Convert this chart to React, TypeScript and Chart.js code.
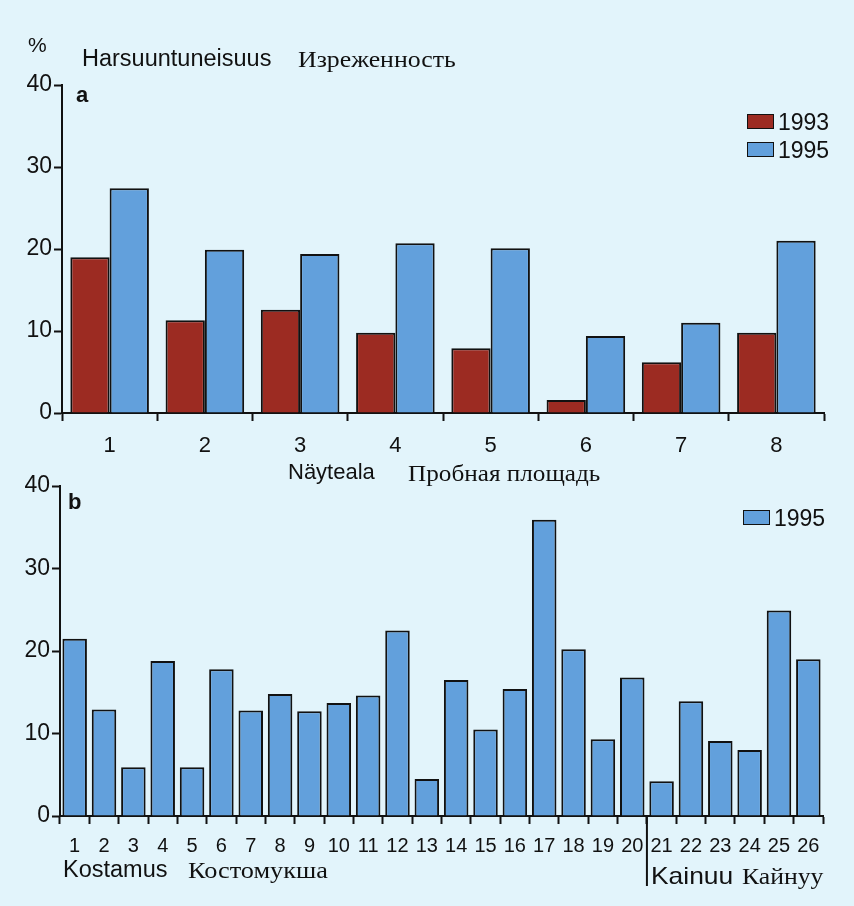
import React, { useEffect, useRef } from "react";
import { Chart, registerables } from "chart.js";

Chart.register(...registerables);

const categoriesA = ["1", "2", "3", "4", "5", "6", "7", "8"];
const values1993 = [19.0, 11.3, 12.6, 9.8, 7.9, 1.6, 6.2, 9.8];
const values1995A = [27.4, 19.9, 19.4, 20.7, 20.1, 9.4, 11.0, 21.0];

const categoriesB = [
  "1", "2", "3", "4", "5", "6", "7", "8", "9", "10", "11", "12", "13",
  "14", "15", "16", "17", "18", "19", "20", "21", "22", "23", "24", "25", "26",
];
const values1995B = [
  21.5, 12.9, 5.9, 18.8, 5.9, 17.8, 12.8, 14.8, 12.7, 13.7, 14.6, 22.5, 4.5,
  16.5, 10.5, 15.4, 35.9, 20.2, 9.3, 16.8, 4.2, 13.9, 9.1, 8.0, 24.9, 19.0,
];
const yMin = 0;
const yMax = 40;
const yStep = 10;

const RED = "#9c2b22";
const BLUE = "#62a0dc";
const BG = "#e2f4fb";
const SANS = "'Liberation Sans', Arial, sans-serif";
const SERIF = "'Liberation Serif', 'Times New Roman', serif";

function yAxis(width: number, fontSize: number) {
  return {
    min: yMin,
    max: yMax,
    ticks: {
      stepSize: yStep,
      color: "#111",
      padding: 2,
      font: { family: SANS, size: fontSize },
    },
    grid: {
      drawOnChartArea: false,
      drawTicks: true,
      tickLength: 8,
      tickColor: "#111",
      tickWidth: 2,
    },
    border: { display: true, color: "#111", width: 2 },
    afterFit: (s: any) => {
      s.width = width;
    },
  };
}

function xAxis(height: number, fontSize: number, padding: number) {
  return {
    ticks: {
      color: "#111",
      padding,
      autoSkip: false,
      maxRotation: 0,
      minRotation: 0,
      font: { family: SANS, size: fontSize },
    },
    grid: {
      offset: true,
      drawOnChartArea: false,
      drawTicks: true,
      tickLength: 8,
      tickColor: "#111",
      tickWidth: 2,
    },
    border: { display: true, color: "#111", width: 2 },
    afterFit: (s: any) => {
      s.height = height;
    },
  };
}

const separatorPlugin = {
  id: "separator",
  afterDraw(chart: any) {
    const x = chart.scales.x;
    const ctx = chart.ctx;
    const px = (x.getPixelForValue(19) + x.getPixelForValue(20)) / 2;
    ctx.save();
    ctx.strokeStyle = "#111";
    ctx.lineWidth = 2;
    ctx.beginPath();
    ctx.moveTo(px, chart.chartArea.bottom);
    ctx.lineTo(px, chart.chartArea.bottom + 70);
    ctx.stroke();
    ctx.restore();
  },
};

function Txt(props: { x: number; base: number; size: number; serif?: boolean; bold?: boolean; sx?: number; children: any }) {
  const { x, base, size, serif, bold, sx, children } = props;
  const k = serif ? 0.8375 : 0.8465;
  return (
    <div
      style={{
        position: "absolute",
        left: x,
        top: base - k * size,
        fontFamily: serif ? SERIF : SANS,
        fontSize: size,
        lineHeight: `${size}px`,
        fontWeight: bold ? "bold" : "normal",
        color: "#111",
        whiteSpace: "nowrap",
        transform: sx ? `scaleX(${sx})` : undefined,
        transformOrigin: "left center",
      }}
    >
      {children}
    </div>
  );
}

function LegendItem(props: { x: number; top: number; color: string; label: string }) {
  const { x, top, color, label } = props;
  return (
    <>
      <div
        style={{
          position: "absolute",
          left: x,
          top,
          width: 27,
          height: 15,
          boxSizing: "border-box",
          background: color,
          border: "1.5px solid #111",
        }}
      />
      <Txt x={x + 31} base={top + 16} size={23}>
        {label}
      </Txt>
    </>
  );
}

export default function App() {
  const refA = useRef<HTMLCanvasElement>(null);
  const refB = useRef<HTMLCanvasElement>(null);

  useEffect(() => {
    document.body.style.margin = "0";
    const a = new Chart(refA.current!, {
      type: "bar",
      data: {
        labels: categoriesA,
        datasets: [
          {
            label: "1993",
            data: values1993,
            backgroundColor: RED,
            borderColor: "#111",
            borderWidth: 2,
          },
          {
            label: "1995",
            data: values1995A,
            backgroundColor: BLUE,
            borderColor: "#111",
            borderWidth: 2,
          },
        ],
      },
      options: {
        animation: false,
        responsive: false,
        maintainAspectRatio: false,
        datasets: { bar: { categoryPercentage: 0.825, barPercentage: 1 } },
        layout: { padding: { left: 0, right: 30, top: 85, bottom: 0 } },
        plugins: { legend: { display: false }, tooltip: { enabled: false } },
        scales: {
          x: xAxis(470 - 413, 22, 12),
          y: yAxis(62, 23),
        },
      } as any,
    });
    const b = new Chart(refB.current!, {
      type: "bar",
      data: {
        labels: categoriesB,
        datasets: [
          {
            label: "1995",
            data: values1995B,
            backgroundColor: BLUE,
            borderColor: "#111",
            borderWidth: 2,
          },
        ],
      },
      options: {
        animation: false,
        responsive: false,
        maintainAspectRatio: false,
        datasets: { bar: { categoryPercentage: 0.835, barPercentage: 1 } },
        layout: { padding: { left: 0, right: 31, top: 16, bottom: 0 } },
        plugins: { legend: { display: false }, tooltip: { enabled: false } },
        scales: {
          x: xAxis(906 - 816, 20, 10),
          y: yAxis(60, 23),
        },
      } as any,
      plugins: [separatorPlugin],
    });
    return () => {
      a.destroy();
      b.destroy();
    };
  }, []);

  return (
    <div style={{ position: "relative", width: 854, height: 906, background: BG, overflow: "hidden" }}>
      <canvas ref={refA} width={854} height={470} style={{ position: "absolute", left: 0, top: 0 }} />
      <canvas ref={refB} width={854} height={436} style={{ position: "absolute", left: 0, top: 470 }} />

      <Txt x={28} base={52} size={21}>%</Txt>
      <Txt x={82} base={67} size={23.5}>Harsuuntuneisuus</Txt>
      <Txt x={298} base={67} size={24} serif sx={1.075}>Изреженность</Txt>
      <Txt x={76} base={103} size={22} bold>a</Txt>
      <Txt x={68} base={510} size={22} bold>b</Txt>

      <Txt x={288} base={480} size={22}>Näyteala</Txt>
      <Txt x={408} base={481} size={24} serif sx={1.05}>Пробная площадь</Txt>

      <Txt x={63} base={878} size={23.5}>Kostamus</Txt>
      <Txt x={188} base={878} size={24} serif sx={1.095}>Костомукша</Txt>
      <Txt x={651} base={884} size={24} sx={1.1}>Kainuu</Txt>
      <Txt x={742} base={884} size={24} serif sx={1.07}>Кайнуу</Txt>

      <LegendItem x={747} top={114} color={RED} label="1993" />
      <LegendItem x={747} top={142} color={BLUE} label="1995" />
      <LegendItem x={743} top={510} color={BLUE} label="1995" />
    </div>
  );
}
